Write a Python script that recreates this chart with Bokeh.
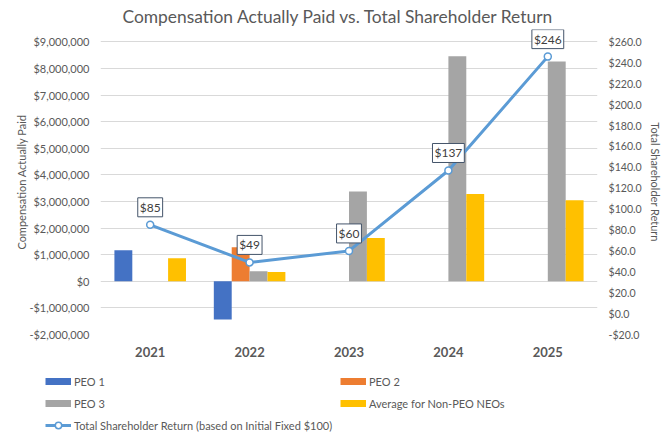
from bokeh.plotting import figure
from bokeh.models import (ColumnDataSource, Range1d, LinearAxis, FixedTicker,
                          NumeralTickFormatter, Legend, LegendItem, FactorRange)
from bokeh.layouts import column
from bokeh.transform import dodge
from bokeh.embed import file_html
from bokeh.resources import INLINE
from bokeh.core.properties import value

years = ["2021", "2022", "2023", "2024", "2025"]
peo1_years = ["2021", "2022"]
peo1 = [1170000, -1440000]
peo2_years = ["2022"]
peo2 = [1280000]
peo3_years = ["2022", "2023", "2024", "2025"]
peo3 = [380000, 3380000, 8460000, 8270000]
avg_neo = [865000, 350000, 1630000, 3280000, 3050000]
tsr = [85, 49, 60, 137, 246]
tsr_labels = ["$85", "$49", "$60", "$137", "$246"]

left_ticks = [-2000000, -1000000, 0, 1000000, 2000000, 3000000, 4000000,
              5000000, 6000000, 7000000, 8000000, 9000000]
right_ticks = [-20, 0, 20, 40, 60, 80, 100, 120, 140, 160, 180, 200, 220, 240, 260]
legend_labels = ["PEO 1", "PEO 2", "PEO 3", "Average for Non-PEO NEOs",
                 "Total Shareholder Return (based on Initial Fixed $100)"]

FONT = "Lato"
TXT = "#595959"
C_PEO1 = "#4472C4"
C_PEO2 = "#ED7D31"
C_PEO3 = "#A5A5A5"
C_AVG = "#FFC000"
C_LINE = "#5B9BD5"

# axis extents: -2M..9M pairs with -20..260; a little head room above for labels
L_MIN, L_MAX = -2000000, 9000000
R_MIN, R_MAX = -20, 260
HEAD = 470000
r_top = R_MAX + HEAD * (R_MAX - R_MIN) / (L_MAX - L_MIN)

p = figure(width=671, height=364, x_range=FactorRange(*years),
           y_range=Range1d(L_MIN, L_MAX + HEAD),
           output_backend="svg", toolbar_location=None,
           min_border_left=100, min_border_right=74,
           min_border_top=29, min_border_bottom=30)
p.extra_y_ranges = {"tsr": Range1d(R_MIN, r_top)}
p.outline_line_color = None
p.background_fill_color = "white"
p.border_fill_color = "white"

p.title.text = "Compensation Actually Paid vs. Total Shareholder Return"
p.title.align = "left"
p.title.offset = 22
p.title.text_font = FONT
p.title.text_font_size = "17.4px"
p.title.text_font_style = "normal"
p.title.text_color = TXT
p.title.standoff = 6

W = 0.18
src1 = ColumnDataSource(dict(year=peo1_years, v=peo1))
src2 = ColumnDataSource(dict(year=peo2_years, v=peo2))
src3 = ColumnDataSource(dict(year=peo3_years, v=peo3))
src4 = ColumnDataSource(dict(year=years, v=avg_neo))
p.vbar(x=dodge("year", -0.27, range=p.x_range), top="v", bottom=0, width=W,
       source=src1, fill_color=C_PEO1, line_color=None)
p.vbar(x=dodge("year", -0.09, range=p.x_range), top="v", bottom=0, width=W,
       source=src2, fill_color=C_PEO2, line_color=None)
p.vbar(x=dodge("year", 0.09, range=p.x_range), top="v", bottom=0, width=W,
       source=src3, fill_color=C_PEO3, line_color=None)
p.vbar(x=dodge("year", 0.27, range=p.x_range), top="v", bottom=0, width=W,
       source=src4, fill_color=C_AVG, line_color=None)

tsrc = ColumnDataSource(dict(year=years, v=tsr, lbl=tsr_labels))
p.line(x="year", y="v", source=tsrc, y_range_name="tsr",
       line_color=C_LINE, line_width=3)
p.scatter(x="year", y="v", source=tsrc, y_range_name="tsr", size=7,
          marker="circle", fill_color="white", line_color=C_LINE, line_width=1.5)
p.text(x="year", y="v", text="lbl", source=tsrc, y_range_name="tsr",
       y_offset=-8, text_align="center", text_baseline="bottom",
       text_font=value(FONT), text_font_size="12px", text_color="#404040",
       padding=2, background_fill_color="white", border_line_color="#44546A",
       border_line_width=1)

# axes
p.yaxis.ticker = FixedTicker(ticks=left_ticks)
p.yaxis.formatter = NumeralTickFormatter(format="$0,0")
p.yaxis.axis_label = "Compensation Actually Paid"
p.xaxis.major_label_text_font_style = "bold"

ax_r = LinearAxis(y_range_name="tsr", ticker=FixedTicker(ticks=right_ticks),
                  formatter=NumeralTickFormatter(format="$0.0"),
                  axis_label="Total Shareholder Return")
p.add_layout(ax_r, "right")

for ax in [p.xaxis[0], p.yaxis[0], ax_r]:
    ax.axis_line_color = None
    ax.major_tick_line_color = None
    ax.minor_tick_line_color = None
    ax.major_tick_out = 0
    ax.major_tick_in = 0
    ax.major_label_text_font = FONT
    ax.major_label_text_color = TXT
    ax.axis_label_text_font = FONT
    ax.axis_label_text_color = TXT
    ax.axis_label_text_font_style = "normal"
    ax.axis_label_text_font_size = "11px"
    ax.major_label_text_font_size = "11px"
p.xaxis.major_label_text_font_size = "13px"
p.xaxis.major_label_standoff = 12
p.yaxis[0].major_label_standoff = 11
p.yaxis[0].axis_label_standoff = -2
ax_r.major_label_standoff = 11
ax_r.major_label_text_font_size = "10.6px"
ax_r.axis_label_standoff = 4

p.xgrid.grid_line_color = None
p.ygrid.grid_line_color = "#D9D9D9"
p.ygrid.grid_line_width = 1

# ---- legend strip below the chart ----
q = figure(width=671, height=74, x_range=Range1d(0, 1), y_range=Range1d(0, 1),
           output_backend="svg", toolbar_location=None,
           x_axis_location=None, y_axis_location=None,
           min_border=0, min_border_left=0, min_border_right=0,
           min_border_top=0, min_border_bottom=0)
q.grid.visible = False
q.outline_line_color = None
q.background_fill_color = "white"
q.border_fill_color = "white"
for fig in (p, q):
    if "frame_align" in fig.properties():
        fig.frame_align = False

# proxy renderers for the legend keys (a single NaN point: nothing is drawn)
nan = float("nan")
proxy_src = ColumnDataSource(dict(x=[nan], y=[nan]))
def swatch(color):
    return q.line(x="x", y="y", source=proxy_src, line_color=color, line_width=7,
                  line_cap="butt")

r_line = q.line(x="x", y="y", source=proxy_src, line_color=C_LINE, line_width=3)
r_mark = q.scatter(x="x", y="y", source=proxy_src, size=7, marker="circle",
                   fill_color="white", line_color=C_LINE, line_width=1.5)
legend_renderers = [[swatch(C_PEO1)], [swatch(C_PEO2)], [swatch(C_PEO3)],
                    [swatch(C_AVG)], [r_line, r_mark]]
legend_locs = [(45, 49), (340, 49), (45, 27), (340, 27), (45, 5)]

for label, rs, loc in zip(legend_labels, legend_renderers, legend_locs):
    lg = Legend(items=[LegendItem(label=label, renderers=rs)], location=loc,
                orientation="horizontal", padding=0, margin=0, spacing=0,
                glyph_width=26, glyph_height=16, label_height=16, label_standoff=3,
                label_text_font=FONT, label_text_font_size="11px",
                label_text_color=TXT, border_line_color=None,
                background_fill_alpha=0)
    q.add_layout(lg, "center")

lay = column(p, q, spacing=0)
open("out.html", "w").write(file_html(lay, INLINE))
